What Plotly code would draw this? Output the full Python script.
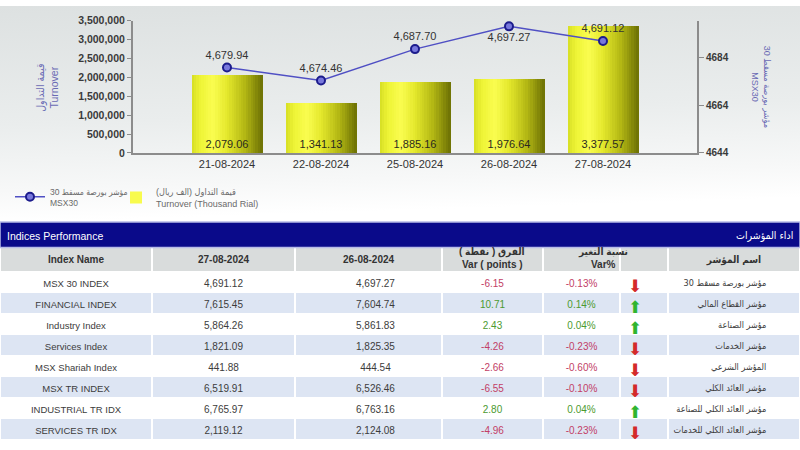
import base64
import plotly.graph_objects as go

# ---------------- data ----------------
dates = ["21-08-2024", "22-08-2024", "25-08-2024", "26-08-2024", "27-08-2024"]
turnover_k = [2079.06, 1341.13, 1885.16, 1976.64, 3377.57]        # thousand rial
msx30 = [4679.94, 4674.46, 4687.70, 4697.27, 4691.12]
msx30_label_pos = ["top center", "top center", "top center", "bottom center", "top center"]
left_ticks = [0, 500000, 1000000, 1500000, 2000000, 2500000, 3000000, 3500000]
right_ticks = [4644, 4664, 4684]

index_names = ["MSX 30 INDEX", "FINANCIAL INDEX", "Industry Index", "Services Index",
               "MSX Shariah Index", "MSX TR INDEX", "INDUSTRIAL TR IDX", "SERVICES TR IDX",
               "FINANCIAL TR IDX"]
close_27 = ["4,691.12", "7,615.45", "5,864.26", "1,821.09", "441.88", "6,519.91",
            "6,765.97", "2,119.12", "9,966.94"]
close_26 = ["4,697.27", "7,604.74", "5,861.83", "1,825.35", "444.54", "6,526.46",
            "6,763.16", "2,124.08", "9,953.07"]
var_points = [-6.15, 10.71, 2.43, -4.26, -2.66, -6.55, 2.80, -4.96, 13.87]
var_pct = [-0.13, 0.14, 0.04, -0.23, -0.60, -0.10, 0.04, -0.23, 0.14]
arabic_names = ["مؤشر بورصة مسقط 30", "مؤشر القطاع المالي", "مؤشر الصناعة", "مؤشر الخدمات",
                "المؤشر الشرعي", "مؤشر العائد الكلي", "مؤشر العائد الكلي للصناعة",
                "مؤشر العائد الكلي للخدمات", "مؤشر العائد الكلي للقطاع المالي"]
header_labels = ["Index Name", "27-08-2024", "26-08-2024", "", "", "", "اسم المؤشر"]

FONT = "Arial, 'Liberation Sans', 'DejaVu Sans Condensed', 'DejaVu Sans', sans-serif"
AR_FONT = "'DejaVu Sans Condensed', 'DejaVu Sans', sans-serif"
NB = "\u00a0"
RLE, PDF = "\u202b", "\u202c"


def nb(s):
    return s.replace(" ", NB)


def mix(c1, c2, t):
    a = [int(c1[i:i + 2], 16) for i in (1, 3, 5)]
    b = [int(c2[i:i + 2], 16) for i in (1, 3, 5)]
    return "#" + "".join(f"{round(x + (y - x) * t):02x}" for x, y in zip(a, b))


def gradient(stops, n):
    out = []
    for k in range(n):
        p = (k + 0.5) / n
        for (p0, c0), (p1, c1) in zip(stops[:-1], stops[1:]):
            if p0 <= p <= p1:
                out.append(mix(c0, c1, (p - p0) / (p1 - p0)))
                break
    return out


fig = go.Figure()

# ---------------- bars (horizontal shading built from slices) ----------------
bar_w = 0.75
slice_colors = gradient([(0.0, "#d6de24"), (0.12, "#eef436"), (0.3, "#fafd50"),
                         (0.5, "#e4e82c"), (0.75, "#b4b814"), (1.0, "#6c7004")], 30)
n = len(slice_colors)
sw = bar_w / n
bar_values = [v * 1000 for v in turnover_k]
for k, c in enumerate(slice_colors):
    fig.add_trace(go.Bar(
        x=dates, y=bar_values, width=sw * 1.15, offset=-bar_w / 2 + k * sw,
        marker=dict(color=c, line=dict(width=0)),
        name=RLE + "قيمة التداول (الف ريال)" + PDF + "<br>Turnover (Thousand Rial)",
        showlegend=(k == 9), legend="legend2", hoverinfo="skip"))

# bar value labels
fig.add_trace(go.Bar(
    x=dates, y=bar_values, width=bar_w,
    marker=dict(color="rgba(0,0,0,0)", line=dict(width=0)),
    text=[f"{v:,.2f}" for v in turnover_k], textposition="inside",
    insidetextanchor="start", textangle=0,
    textfont=dict(family=FONT, size=11, color="#2a2a20"),
    showlegend=False, hoverinfo="skip"))

# ---------------- MSX30 line ----------------
fig.add_trace(go.Scatter(
    x=dates, y=msx30, yaxis="y2", mode="lines+markers+text",
    line=dict(color="#5050c4", width=1.5),
    marker=dict(symbol="circle", size=8, color="#7878dc",
                line=dict(color="#1c1c8c", width=2)),
    text=[f"{v:,.2f}" for v in msx30], textposition=msx30_label_pos,
    textfont=dict(family=FONT, size=11, color="#333333"),
    name="30 مؤشر بورصة مسقط<br>MSX30", legend="legend"))

# ---------------- table ----------------
neg, pos, txt = "#c23e66", "#4c9a30", "#3c3c3c"
var_colors = [pos if v >= 0 else neg for v in var_points]
arrow_colors = ["#2fb52f" if v >= 0 else "#d42a2a" for v in var_pct]
arrows = ["⬆" if v >= 0 else "⬇" for v in var_pct]
rows = len(index_names)
row_fill = ["#ffffff" if i % 2 == 0 else "#dde5f3" for i in range(rows)]

fig.add_trace(go.Table(
    domain=dict(x=[0, 1], y=[0, 202 / 450]),
    columnwidth=[152, 143, 147, 101, 77, 48, 132],
    header=dict(
        values=[nb(h) for h in header_labels],
        fill_color="#d9dcdc", line=dict(color="white", width=1.5),
        align="center", height=24,
        font=dict(family=FONT, size=10, color="#333333", weight="bold")),
    cells=dict(
        values=[[nb(s) for s in index_names], close_27, [NB * 5 + v for v in close_26],
                [f"{v:.2f}" for v in var_points], [f"{p:.2f}%" for p in var_pct],
                arrows, [nb(a) + NB * 10 for a in arabic_names]],
        fill_color=[row_fill] * 7, line=dict(color="white", width=1.5),
        align=["center", "center", "center", "center", "center", "left", "right"],
        height=21,
        font=dict(family=[FONT, FONT, FONT, FONT, FONT, "'DejaVu Sans', sans-serif", AR_FONT],
                  size=[9.5, 10, 10, 10, 10, 17, 9],
                  color=[[txt] * rows, [txt] * rows, [txt] * rows, var_colors,
                         var_colors, arrow_colors, [txt] * rows]))))

# ---------------- background gradient ----------------
svg = ('<svg xmlns="http://www.w3.org/2000/svg" width="800" height="220" '
       'preserveAspectRatio="none"><defs><linearGradient id="g" x1="0" y1="0" x2="0.12" y2="1">'
       '<stop offset="0" stop-color="#dde1e1"/><stop offset="0.55" stop-color="#eaeded"/>'
       '<stop offset="0.85" stop-color="#f7f8f8"/><stop offset="1" stop-color="#ffffff"/>'
       '</linearGradient></defs><rect width="800" height="220" fill="url(#g)"/></svg>')
img_src = "data:image/svg+xml;base64," + base64.b64encode(svg.encode()).decode()

hdr_font = dict(family=FONT, size=10, color="#333333", weight="bold")
annotations = [
    dict(text="Indices Performance", xref="paper", yref="paper", x=5 / 800,
         y=(450 - 236) / 450, xanchor="left", yanchor="middle", showarrow=False,
         font=dict(family=FONT, size=10.5, color="white")),
    dict(text="اداء المؤشرات", xref="paper", yref="paper", x=795 / 800,
         y=(450 - 236) / 450, xanchor="right", yanchor="middle", showarrow=False,
         font=dict(family=FONT, size=10.5, color="white")),
    dict(text="قيمة التداول<br>Turnover", xref="paper", yref="paper", x=47 / 800,
         y=(450 - 84) / 450, xanchor="center", yanchor="middle", showarrow=False,
         textangle=-90, font=dict(family=FONT, size=10.5, color="#6a6ab4")),
    dict(text="30 مؤشر بورصة مسقط<br>MSX30", xref="paper", yref="paper", x=761 / 800,
         y=(450 - 83) / 450, xanchor="center", yanchor="middle", showarrow=False,
         textangle=90, font=dict(family=FONT, size=9, color="#6a6ab4")),
]
for xc, top, bottom in [(492, RLE + "الفرق ( نقطة )" + PDF, "Var ( points )"),
                        (603, "نسبة التغير", "Var%")]:
    annotations.append(dict(text=top, xref="paper", yref="paper", x=xc / 800,
                            y=(450 - 253) / 450, xanchor="center", yanchor="middle",
                            showarrow=False, font=hdr_font))
    annotations.append(dict(text=bottom, xref="paper", yref="paper", x=xc / 800,
                            y=(450 - 266) / 450, xanchor="center", yanchor="middle",
                            showarrow=False, font=hdr_font))

legend_style = dict(orientation="h", yanchor="top", xanchor="left",
                    bgcolor="rgba(0,0,0,0)", itemwidth=30)

fig.update_layout(
    width=800, height=450, margin=dict(l=0, r=0, t=0, b=0),
    paper_bgcolor="white", plot_bgcolor="rgba(0,0,0,0)",
    barmode="overlay", bargap=0,
    font=dict(family=FONT),
    images=[dict(source=img_src, xref="paper", yref="paper", x=0, y=1,
                 sizex=1, sizey=220 / 450, xanchor="left", yanchor="top",
                 sizing="stretch", layer="below")],
    xaxis=dict(domain=[133 / 800, 697 / 800], type="category", range=[-1, 5],
               showgrid=False, showline=True, linecolor="#8c8c8c", linewidth=2,
               ticks="", tickfont=dict(family=FONT, size=11, color="#333333"),
               fixedrange=True),
    yaxis=dict(domain=[(450 - 151) / 450, (450 - 15) / 450], range=[0, 3500000],
               tickvals=left_ticks, tickformat=",d", showgrid=False, zeroline=False,
               showline=True, linecolor="#8c8c8c", linewidth=2,
               ticks="outside", ticklen=4, tickcolor="#8c8c8c",
               tickfont=dict(family=FONT, size=10.5, color="#3a3a3a", weight="bold")),
    yaxis2=dict(overlaying="y", side="right", range=[4644, 4699.7],
                tickvals=right_ticks, showgrid=False, zeroline=False,
                showline=True, linecolor="#8c8c8c", linewidth=2,
                ticks="outside", ticklen=5, tickcolor="#8c8c8c",
                tickfont=dict(family=FONT, size=10, color="#3a3a3a", weight="bold")),
    legend=dict(x=10 / 800, y=(450 - 178) / 450,
                font=dict(family=FONT, size=8.5, color="#6a6a6a"), **legend_style),
    legend2=dict(x=116 / 800, y=(450 - 178) / 450,
                 font=dict(family=FONT, size=9, color="#6a6a6a"), **legend_style),
    shapes=[
        dict(type="rect", xref="paper", yref="paper", x0=0, x1=1,
             y0=(450 - 248) / 450, y1=(450 - 222) / 450,
             fillcolor="#0a0a8a", line=dict(color="#b8bce8", width=1.5), layer="above"),
    ],
    annotations=annotations,
)

fig.write_html("out.html")
